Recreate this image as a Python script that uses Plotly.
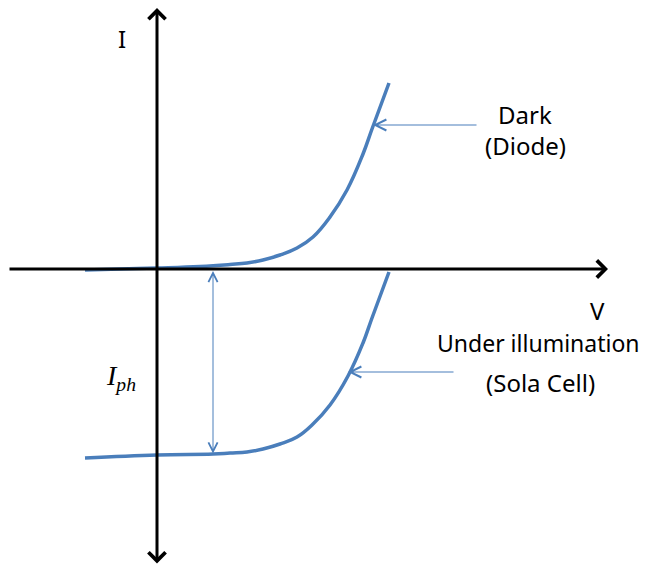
import plotly.graph_objects as go

# Dark (diode) I-V curve (V, I in arbitrary units)
dark_v = [-1.44, -0.74, 0.0, 0.86, 1.46, 1.80, 2.12, 2.46, 2.80, 3.12, 3.46, 3.80, 4.12, 4.30, 4.64]
dark_i = [-0.02, 0.00, 0.02, 0.05, 0.09, 0.12, 0.18, 0.28, 0.42, 0.64, 1.04, 1.58, 2.30, 2.80, 3.72]

# Under illumination (solar cell) I-V curve
light_v = [-1.44, 0.0, 1.12, 1.46, 1.80, 2.12, 2.46, 2.80, 3.12, 3.46, 3.82, 4.12, 4.30, 4.64]
light_i = [-3.78, -3.72, -3.70, -3.68, -3.66, -3.60, -3.50, -3.36, -3.10, -2.72, -2.14, -1.48, -0.98, -0.06]

curve_color = "#4A7EBB"
font_sans = "Noto Sans"

fig = go.Figure()
for v, i in [(dark_v, dark_i), (light_v, light_i)]:
    fig.add_trace(go.Scatter(x=v, y=i, mode="lines",
                             line=dict(color=curve_color, width=3.5, shape="spline", smoothing=1.2),
                             hoverinfo="skip", showlegend=False))

def arrow(x, y, ax, ay, color, width, head, size=1.0, side="end"):
    fig.add_annotation(x=x, y=y, ax=ax, ay=ay, xref="x", yref="y", axref="x", ayref="y",
                       text="", showarrow=True, arrowhead=head, startarrowhead=head,
                       arrowsize=size, startarrowsize=size,
                       arrowwidth=width, arrowcolor=color, arrowside=side, standoff=0, startstandoff=0)

# Axes
arrow(9.02, 0, -2.98, 0, "black", 3, 4, 1.1)
arrow(0, 5.22, 0, -5.92, "black", 3, 4, 1.1, "end+start")
# Iph double arrow
arrow(1.12, -0.04, 1.12, -3.72, curve_color, 1, 5, 1.8, "end+start")
# Pointers
arrow(4.32, 2.88, 6.42, 2.88, curve_color, 1.2, 5, 1.8)
arrow(3.82, -2.06, 5.96, -2.06, curve_color, 1.2, 5, 1.8)

def label(x, y, text, size=24, family=font_sans):
    fig.add_annotation(x=x, y=y, xref="x", yref="y", text=text, showarrow=False,
                       xanchor="center", yanchor="middle",
                       font=dict(family=family, size=size, color="black"))

label(-0.70, 4.62, "I")
label(7.36, 3.10, "Dark")
label(7.36, 2.48, "(Diode)")
label(8.80, -0.82, "V")
label(7.62, -1.48, "Under illumination", size=23)
label(7.66, -2.26, "(Sola Cell)")
label(-0.72, -2.16, "<i>I<sub>ph</sub></i>", size=28, family="Liberation Serif")

# ranges offset by the 8px page margin so the drawing lands where the reference has it
fig.update_layout(
    width=652, height=569,
    margin=dict(l=0, r=0, t=0, b=0),
    paper_bgcolor="white", plot_bgcolor="white",
    xaxis=dict(range=[-2.98, 10.06], visible=False, fixedrange=True),
    yaxis=dict(range=[-6.16, 5.22], visible=False, fixedrange=True),
)

fig.write_html("out.html")
